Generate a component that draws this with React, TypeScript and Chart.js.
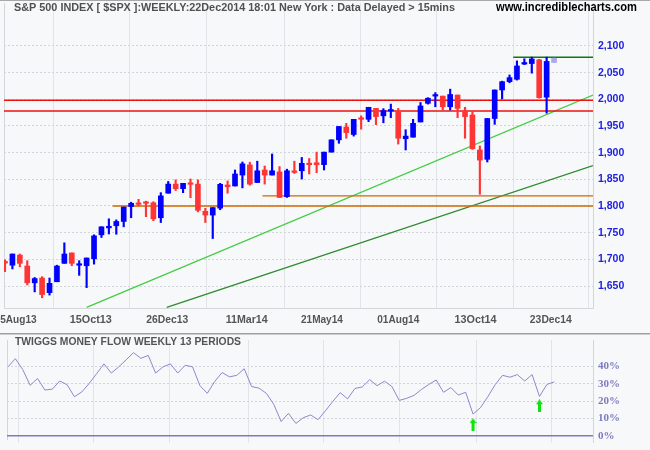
import React, { useEffect, useRef } from 'react';
import { Chart, registerables } from 'chart.js';
Chart.register(...registerables);

// ---------- DATA ----------
const firstBarDate = '2013-07-26'; // weekly bars (Friday dates)
const dateTicks = ['05Aug13', '15Oct13', '26Dec13', '11Mar14', '21May14', '01Aug14', '13Oct14', '23Dec14'];

const opens = [
  1696, 1689, 1708, 1687.5, 1656, 1665, 1637.5, 1658, 1692.5, 1712,
  1689, 1688, 1701, 1746, 1759, 1763, 1771, 1799, 1805, 1807,
  1806, 1778, 1824, 1841, 1832.5, 1842, 1841, 1790, 1783, 1796,
  1839.4, 1837.5, 1858, 1877, 1844, 1867.5, 1858, 1864, 1817.5, 1865,
  1866, 1879, 1881, 1877.5, 1901, 1924, 1948, 1934, 1964, 1962.5,
  1983, 1969, 1978, 1977, 1926, 1929, 1957.5, 1992.5, 2006, 2006,
  1986, 2008, 1977, 1970.6, 1905, 1887.5, 1964, 2017.5, 2033, 2037.5,
  2066, 2067, 2074, 2004, 2069,
];
const highs = [
  1699, 1710, 1710, 1697.5, 1666, 1667.5, 1665, 1689, 1731, 1712,
  1697.5, 1702.5, 1746, 1761, 1776, 1774, 1798, 1807, 1812.5, 1809,
  1808, 1825, 1846, 1849, 1842.5, 1850.6, 1849, 1795.6, 1797, 1842.5,
  1847, 1867.5, 1882.5, 1882, 1884, 1875, 1897.5, 1874, 1869, 1884,
  1891, 1889, 1901, 1901, 1924, 1949, 1955, 1962.5, 1969, 1985,
  1983, 1982.5, 1991, 1983, 1943, 1962.5, 1994, 2003, 2012.5, 2006,
  2019, 2008, 1985, 1977, 1912.5, 1964, 2017.5, 2034, 2045.6, 2072,
  2076, 2079, 2075, 2079, 2077,
];
const lows = [
  1677, 1682, 1686, 1652, 1639, 1628, 1633, 1658, 1692.5, 1688,
  1670, 1647, 1691, 1741, 1747.5, 1747, 1761, 1778, 1800, 1780,
  1772.5, 1769, 1824, 1829, 1825, 1815.6, 1789, 1769, 1739, 1793,
  1824, 1837.5, 1834, 1839, 1844, 1841, 1858, 1816, 1816, 1861,
  1850.6, 1860, 1862.5, 1867.5, 1901, 1917.5, 1927, 1931, 1944, 1958,
  1952.5, 1956, 1965.6, 1916, 1905, 1929, 1957.5, 1991, 1986, 1980,
  1980, 1965.6, 1927, 1906, 1822, 1882.5, 1953, 2000.6, 2031, 2036,
  2065, 2049, 2002, 1974, 2069,
];
const closes = [
  1693, 1710, 1692.5, 1656, 1664, 1634, 1655, 1687.5, 1710, 1692.5,
  1691, 1702.5, 1744, 1761, 1762, 1771, 1798, 1805, 1803, 1805,
  1776, 1819, 1841, 1832.5, 1842.5, 1840.6, 1792, 1783, 1797, 1840.6,
  1836, 1860, 1879, 1841, 1866, 1858, 1866, 1816, 1866, 1863,
  1880, 1877.5, 1877.5, 1901, 1924, 1949, 1937.5, 1962.5, 1962.5, 1985,
  1967.5, 1979, 1979.6, 1927, 1931, 1955, 1987.5, 2002, 2008, 1986,
  2009, 1983, 1967.5, 1907.5, 1886, 1964, 2017.5, 2033, 2040.6, 2062.5,
  2069, 2075.6, 2003, 2071, 2077,
];

// Twiggs Money Flow (%)
const tmf = [
  39.8, 44.5, 38.2, 29.1, 33.1, 26.4, 26.9, 31.6, 29.5, 22.5,
  25.3, 30.2, 35.8, 41.5, 36.2, 39.8, 43.8, 48.0, 44.7, 46.4,
  36.2, 39.8, 41.5, 36.2, 40.7, 39.8, 28.9, 24.5, 31.3, 36.5,
  34.0, 34.9, 38.7, 28.4, 27.5, 24.5, 18.2, 8.2, 12.9, 7.1,
  10.4, 12.0, 9.3, 14.4, 19.8, 24.9, 21.3, 27.3, 28.2, 32.4,
  28.9, 31.5, 28.5, 20.4, 21.6, 23.3, 26.7, 29.6, 32.2, 25.1,
  27.8, 23.5, 25.1, 12.5, 16.2, 22.5, 29.5, 34.9, 33.8, 35.3,
  31.6, 35.3, 22.7, 29.6, 31.1,
];
const signalBars = [63, 72];
const signalValues = [6.4, 17.3];

const priceTicks = [1650, 1700, 1750, 1800, 1850, 1900, 1950, 2000, 2050, 2100];
const tmfTicks = [0, 10, 20, 30, 40];

// annotation lines (bar index / price)
const resistanceLevels = [1998, 1978];
const supportStarts = [14.5, 34.7];
const supportLevels = [1800, 1819];
const highStart = 68.5;
const highLevel = 2079;
const trendLight = [[11.0, 1610], [79.25, 2008]];
const trendDark = [[21.8, 1610], [79.25, 1875.6]];

// ---------- helpers ----------
const X_MIN = -0.135;
const X_MAX = 79.25;
const MONTHS = ['Jan', 'Feb', 'Mar', 'Apr', 'May', 'Jun', 'Jul', 'Aug', 'Sep', 'Oct', 'Nov', 'Dec'];
function weekPos(label: string) {
  const d = parseInt(label.slice(0, 2), 10);
  const m = MONTHS.indexOf(label.slice(2, 5));
  const y = 2000 + parseInt(label.slice(5), 10);
  const [fy, fm, fd] = firstBarDate.split('-').map(Number);
  return (Date.UTC(y, m, d) - Date.UTC(fy, fm - 1, fd)) / (7 * 86400000);
}
const tickPos = dateTicks.map(weekPos);

const BG = '#f7f8fa';
const UP = '#0000ff';
const DOWN = '#ff3535';
const CURRENT = '#a9a9f0';
const candleColor = (i: number) =>
  i === opens.length - 1 ? CURRENT : closes[i] >= opens[i] ? UP : DOWN;

function makeArrow(color: string) {
  const c = document.createElement('canvas');
  c.width = 7;
  c.height = 13;
  const g = c.getContext('2d')!;
  g.fillStyle = color;
  g.beginPath();
  g.moveTo(3.5, 0);
  g.lineTo(7, 5);
  g.lineTo(5, 5);
  g.lineTo(5, 13);
  g.lineTo(2, 13);
  g.lineTo(2, 5);
  g.lineTo(0, 5);
  g.closePath();
  g.fill();
  return c;
}

const bgPlugin = {
  id: 'bg',
  beforeDraw(chart: any) {
    const { ctx, width, height } = chart;
    ctx.save();
    ctx.fillStyle = BG;
    ctx.fillRect(0, 0, width, height);
    ctx.restore();
  },
};

function lineDs(points: number[][], color: string, width: number) {
  return {
    type: 'line' as const,
    data: points.map(([x, y]) => ({ x, y })),
    borderColor: color,
    borderWidth: width,
    pointRadius: 0,
    fill: false,
    order: 5,
  };
}

const noPad = (s: any) => {
  s.paddingTop = 0;
  s.paddingBottom = 0;
  s.paddingLeft = 0;
  s.paddingRight = 0;
};

export default function App() {
  const topRef = useRef<HTMLCanvasElement>(null);
  const botRef = useRef<HTMLCanvasElement>(null);

  useEffect(() => {
    document.body.style.margin = '0';
    document.body.style.background = BG;

    const topBorder = {
      id: 'topBorder',
      beforeDatasetsDraw(chart: any) {
        const { ctx, chartArea: a } = chart;
        ctx.save();
        ctx.strokeStyle = '#d4d6da';
        ctx.lineWidth = 1;
        ctx.beginPath();
        ctx.moveTo(a.left + 0.5, a.top);
        ctx.lineTo(a.left + 0.5, a.bottom + 0.5);
        ctx.lineTo(a.right + 0.5, a.bottom + 0.5);
        ctx.lineTo(a.right + 0.5, a.top);
        ctx.stroke();
        ctx.restore();
      },
      afterDraw(chart: any) {
        const { ctx } = chart;
        const xs = chart.scales.x;
        ctx.save();
        ctx.fillStyle = '#a8a8a8';
        ctx.fillRect(0, 0, 650, 1);
        ctx.textBaseline = 'middle';
        ctx.textAlign = 'left';
        ctx.font = 'bold 11px "Liberation Sans", Arial, sans-serif';
        ctx.fillStyle = '#505050';
        ctx.fillText('S&P 500 INDEX [ $SPX ]:WEEKLY:22Dec2014 18:01 New York : Data Delayed > 15mins', 14, 7.5, 441);
        ctx.fillStyle = '#000000';
        ctx.font = 'bold 12px "Liberation Sans", Arial, sans-serif';
        ctx.fillText('www.incrediblecharts.com', 496, 7.5, 141);
        ctx.textAlign = 'center';
        ctx.font = 'bold 11px "Liberation Sans", Arial, sans-serif';
        ctx.fillStyle = '#555555';
        tickPos.forEach((v, i) => {
          ctx.fillText(dateTicks[i], xs.getPixelForValue(v), 320, 42);
        });
        ctx.restore();
      },
    };

    const top = new Chart(topRef.current!, {
      type: 'bar',
      data: {
        datasets: [
          {
            type: 'bar',
            data: opens.map((o, i) => ({ x: i, y: [o, closes[i]] })),
            backgroundColor: opens.map((_, i) => candleColor(i)),
            barThickness: 5,
            grouped: false,
            minBarLength: 1.5,
            order: 0,
          } as any,
          {
            type: 'bar',
            data: opens.map((_, i) => ({ x: i, y: [lows[i], highs[i]] })),
            backgroundColor: opens.map((_, i) => candleColor(i)),
            barThickness: 1.5,
            grouped: false,
            order: 0,
          } as any,
          ...resistanceLevels.map((lv) => lineDs([[X_MIN, lv], [X_MAX, lv]], '#ee1111', 1.5)),
          ...supportLevels.map((lv, i) => lineDs([[supportStarts[i], lv], [X_MAX, lv]], '#cc6a00', 1.3)),
          lineDs([[highStart, highLevel], [X_MAX, highLevel]], '#117711', 1.5),
          lineDs(trendLight, '#44cc44', 1.2),
          lineDs(trendDark, '#2e8a2e', 1.3),
        ],
      },
      options: {
        responsive: false,
        animation: false,
        devicePixelRatio: 1,
        layout: { padding: { left: 4, top: 3, right: 0, bottom: 0 } },
        plugins: { legend: { display: false }, tooltip: { enabled: false } },
        scales: {
          x: {
            type: 'linear',
            min: X_MIN,
            max: X_MAX,
            offset: false,
            afterBuildTicks: (s: any) => {
              s.ticks = tickPos.map((v) => ({ value: v }));
            },
            afterFit: (s: any) => {
              s.height = 25;
              noPad(s);
            },
            ticks: { display: false },
            grid: { color: '#e2e4e8', drawTicks: false, lineWidth: 1 },
            border: { display: false },
          },
          y: {
            type: 'linear',
            position: 'right',
            min: 1608.8,
            max: 2180.5,
            afterBuildTicks: (s: any) => {
              s.ticks = priceTicks.map((v) => ({ value: v }));
            },
            afterFit: (s: any) => {
              s.width = 57;
              noPad(s);
            },
            ticks: {
              color: '#2020dd',
              padding: 5,
              font: { family: '"Liberation Sans", Arial, sans-serif', size: 10.5, weight: 'bold' },
              callback: (v: any) => Number(v).toLocaleString('en-US'),
            },
            grid: { color: '#d2d5d9', drawTicks: false, lineWidth: 1 },
            border: { display: false, dash: [2, 2] },
          },
        },
      } as any,
      plugins: [bgPlugin, topBorder],
    });

    const botDecor = {
      id: 'botDecor',
      beforeDatasetsDraw(chart: any) {
        const { ctx, chartArea: a } = chart;
        ctx.save();
        ctx.strokeStyle = '#d4d6da';
        ctx.lineWidth = 1;
        ctx.beginPath();
        ctx.moveTo(a.left + 0.5, a.top);
        ctx.lineTo(a.left + 0.5, a.bottom - 3);
        ctx.moveTo(a.right + 0.5, a.top);
        ctx.lineTo(a.right + 0.5, a.bottom);
        ctx.stroke();
        ctx.restore();
      },
      afterDraw(chart: any) {
        const { ctx } = chart;
        ctx.save();
        ctx.fillStyle = '#a0a0a0';
        ctx.fillRect(0, 0, 650, 1.5);
        ctx.textBaseline = 'middle';
        ctx.textAlign = 'left';
        ctx.font = 'bold 11px "Liberation Sans", Arial, sans-serif';
        ctx.fillStyle = '#555555';
        ctx.fillText('TWIGGS MONEY FLOW WEEKLY 13 PERIODS', 15, 8.5, 226);
        ctx.restore();
      },
    };

    const arrow = makeArrow('#11e011');
    const bot = new Chart(botRef.current!, {
      type: 'line',
      data: {
        datasets: [
          {
            data: tmf.map((v, i) => ({ x: i, y: v })),
            borderColor: '#8a8acc',
            borderWidth: 1,
            pointRadius: 0,
            fill: false,
            order: 1,
          },
          {
            data: [{ x: X_MIN, y: 0 }, { x: X_MAX, y: 0 }],
            borderColor: '#7a7abf',
            borderWidth: 1.5,
            pointRadius: 0,
            fill: false,
            order: 2,
          },
          {
            type: 'scatter',
            data: signalBars.map((b, i) => ({ x: b, y: signalValues[i] })),
            pointStyle: arrow,
            pointRadius: 6,
            showLine: false,
            order: 0,
          } as any,
        ],
      },
      options: {
        responsive: false,
        animation: false,
        devicePixelRatio: 1,
        layout: { padding: { left: 4, top: 2, right: 0, bottom: 0 } },
        plugins: { legend: { display: false }, tooltip: { enabled: false } },
        scales: {
          x: {
            type: 'linear',
            min: X_MIN,
            max: X_MAX,
            offset: false,
            afterBuildTicks: (s: any) => {
              s.ticks = tickPos.map((v) => ({ value: v }));
            },
            afterFit: (s: any) => {
              s.height = 5;
              noPad(s);
            },
            ticks: { display: false },
            grid: { color: '#e2e4e8', drawTicks: false, lineWidth: 1 },
            border: { display: false },
          },
          y: {
            type: 'linear',
            position: 'right',
            min: -4.2,
            max: 55.3,
            afterBuildTicks: (s: any) => {
              s.ticks = tmfTicks.map((v) => ({ value: v }));
            },
            afterFit: (s: any) => {
              s.width = 57;
              noPad(s);
            },
            ticks: {
              color: '#7b7bbd',
              padding: 5,
              font: { family: '"Liberation Serif", "Times New Roman", serif', size: 11, weight: 'bold' },
              callback: (v: any) => `${v}%`,
            },
            grid: { color: '#d2d5d9', drawTicks: false, lineWidth: 1 },
            border: { display: false, dash: [2, 2] },
          },
        },
      } as any,
      plugins: [bgPlugin, botDecor],
    });

    return () => {
      top.destroy();
      bot.destroy();
    };
  }, []);

  return (
    <div style={{ width: 650, height: 450, background: BG }}>
      <canvas ref={topRef} width={650} height={333} style={{ display: 'block' }} />
      <canvas ref={botRef} width={650} height={117} style={{ display: 'block' }} />
    </div>
  );
}
